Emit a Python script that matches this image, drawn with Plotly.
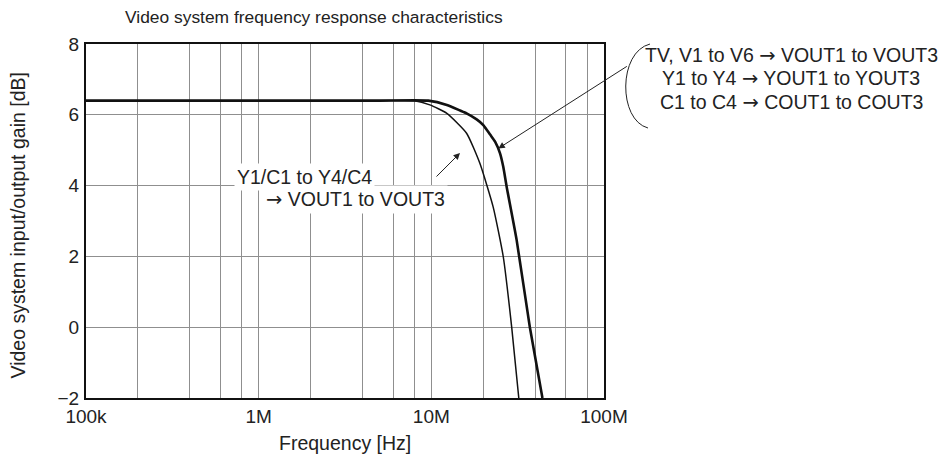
import plotly.graph_objects as go

# Data
freq_thick = [1e5, 1e6, 5e6, 9.6e6, 12.3e6, 14.7e6, 16e6, 18.3e6, 20e6, 21.9e6, 23.4e6, 25.0e6, 26.1e6, 27.3e6, 31.2e6, 37.2e6, 44e6]
gain_thick = [6.4, 6.4, 6.4, 6.4, 6.28, 6.12, 6.04, 5.87, 5.71, 5.44, 5.24, 4.91, 4.53, 3.97, 2.46, 0.0, -2.0]

freq_thin = [1e5, 1e6, 5e6, 8.0e6, 9.8e6, 12.3e6, 16e6, 19.1e6, 22.8e6, 26.1e6, 29.2e6, 32.1e6]
gain_thin = [6.4, 6.4, 6.4, 6.4, 6.28, 6.04, 5.48, 4.63, 3.40, 1.99, 0.0, -2.0]

grid_vals = [1e5, 2e5, 4e5, 6e5, 8e5, 1e6, 2e6, 4e6, 6e6, 8e6, 1e7, 2e7, 4e7, 6e7, 8e7, 1e8]
grid_text = ["100k", "", "", "", "", "1M", "", "", "", "", "10M", "", "", "", "", "100M"]
y_ticks = [-2, 0, 2, 4, 6, 8]

FONT = "Liberation Sans, Arial, sans-serif"
ARROW = '<span style="font-family:DejaVu Sans">\u2192</span>'

fig = go.Figure()
fig.add_trace(go.Scatter(x=freq_thin, y=gain_thin, mode="lines",
                         line=dict(color="#111111", width=1.5, shape="spline", smoothing=0.5),
                         showlegend=False))
fig.add_trace(go.Scatter(x=freq_thick, y=gain_thick, mode="lines",
                         line=dict(color="#111111", width=2.6, shape="spline", smoothing=0.5),
                         showlegend=False))

# page body has an 8px margin: figure is 943x451 placed at (8, 8)
fig.update_layout(
    width=943, height=451,
    margin=dict(l=78, r=347, t=36, b=61),
    paper_bgcolor="white", plot_bgcolor="white",
    font=dict(family=FONT, size=19.5, color="#222222"),
    showlegend=False,
)
fig.update_xaxes(type="log", range=[5, 8], tickvals=grid_vals, ticktext=grid_text,
                 showgrid=True, gridcolor="#8f8f8f", gridwidth=1,
                 showline=True, linecolor="#111111", linewidth=2, mirror=True,
                 ticks="", zeroline=False, automargin=False,
                 tickfont=dict(size=19), ticklabelstandoff=0)
fig.update_yaxes(range=[-2, 8], tickvals=y_ticks,
                 showgrid=True, gridcolor="#8f8f8f", gridwidth=1,
                 showline=True, linecolor="#111111", linewidth=2, mirror=True,
                 ticks="", zeroline=False, automargin=False,
                 tickfont=dict(size=19), ticklabelstandoff=1)

W, H = 518.0, 354.0
def px(xp):
    return (xp - 86) / W
def py(yp):
    return (398 - yp) / H

ann = []
ann.append(dict(text="Video system frequency response characteristics", xref="paper", yref="paper",
                x=px(313.5), y=py(17), xanchor="center", yanchor="middle",
                showarrow=False, font=dict(size=17.4)))
# axis titles
ann.append(dict(text="Frequency [Hz]", xref="paper", yref="paper", x=px(345), y=py(443),
                xanchor="center", yanchor="middle", showarrow=False))
ann.append(dict(text="Video system input/output gain [dB]", xref="paper", yref="paper",
                x=px(17.5), y=py(226), textangle=-90,
                xanchor="center", yanchor="middle", showarrow=False))
# left labels
ann.append(dict(text="Y1/C1 to Y4/C4", xref="paper", yref="paper", x=px(234), y=py(177),
                xanchor="left", yanchor="middle", showarrow=False, bgcolor="white", borderpad=2))
ann.append(dict(text=ARROW + " VOUT1 to VOUT3", xref="paper", yref="paper", x=px(263), y=py(199),
                xanchor="left", yanchor="middle", showarrow=False, bgcolor="white", borderpad=2))
# right labels
for txt, yy in [("TV, V1 to V6 " + ARROW + " VOUT1 to VOUT3", 55),
                ("Y1 to Y4 " + ARROW + " YOUT1 to YOUT3", 78.5),
                ("C1 to C4 " + ARROW + " COUT1 to COUT3", 102.5)]:
    ann.append(dict(text=txt, xref="paper", yref="paper", x=px(791), y=py(yy),
                    xanchor="center", yanchor="middle", showarrow=False))
# arrows
ann.append(dict(text="", x=7.166, y=4.92, xref="x", yref="y", ax=-25, ay=25,
                showarrow=True, arrowhead=2, arrowsize=1.3, arrowwidth=1, arrowcolor="#222222"))
ann.append(dict(text="", x=7.388, y=5.05, xref="x", yref="y", ax=130, ay=-83,
                showarrow=True, arrowhead=2, arrowsize=1.3, arrowwidth=1, arrowcolor="#222222"))
fig.update_layout(annotations=ann)

# bracket
path = "M {:.4f},{:.4f} C {:.4f},{:.4f} {:.4f},{:.4f} {:.4f},{:.4f}".format(
    px(650), py(44), px(618), py(52), px(618), py(120), px(648), py(128))
fig.add_shape(type="path", path=path, xref="paper", yref="paper",
              line=dict(color="#222222", width=1))

fig.write_html("out.html")
